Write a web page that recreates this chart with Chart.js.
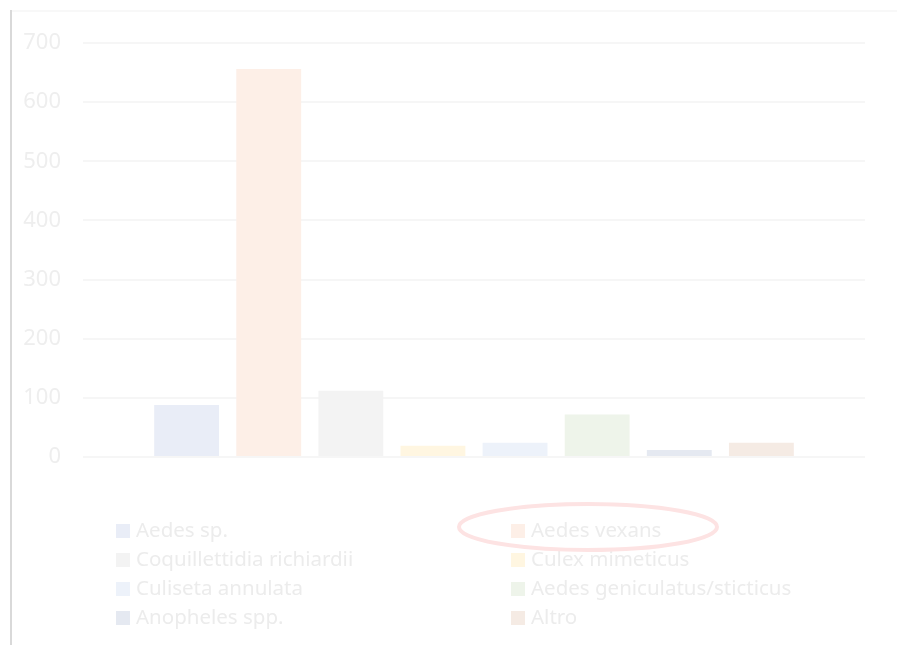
<!DOCTYPE html>
<html lang="it">
<head>
<meta charset="UTF-8">
<title>Specie catturate</title>
<script src="https://cdn.jsdelivr.net/npm/chart.js"></script>
<style>
    body {
        margin: 0;
        background: #fff;
        font-family: "Noto Sans", sans-serif;
    }
    .frame {
        position: relative;
        width: 897px;
        height: 645px;
        overflow: hidden;
    }
    .frame .edge-left {
        position: absolute;
        left: 10px; top: 10px;
        width: 2px; height: 635px;
        background: #d9d9d9;
    }
    .frame .edge-top {
        position: absolute;
        left: 12px; top: 10px;
        width: 885px; height: 2px;
        background: #f8f8f8;
    }
    #chart {
        position: absolute;
        left: 0; top: 0;
    }
    .legend {
        position: absolute;
        left: 116px;
        top: 515px;
        display: grid;
        grid-template-columns: 395px 300px;
        font-size: 20.5px;
        line-height: 29px;
        color: #ececec;
    }
    .legend span {
        display: inline-block;
        width: 14px; height: 14px;
        margin-right: 6px;
        vertical-align: -1px;
    }
    .mark {
        position: absolute;
        left: 0; top: 0;
        pointer-events: none;
    }
</style>
</head>
<body>
<div class="frame">
    <div class="edge-left"></div>
    <div class="edge-top"></div>
    <canvas id="chart" width="897" height="645"></canvas>
    <div class="legend" id="legend"></div>
    <svg class="mark" width="897" height="645">
        <ellipse cx="588" cy="527" rx="129" ry="23" fill="none" stroke="#fde3e3" stroke-width="4"/>
    </svg>
</div>

<script>
    const species = ['Aedes sp.', 'Aedes vexans', 'Coquillettidia richiardii', 'Culex mimeticus',
                     'Culiseta annulata', 'Aedes geniculatus/sticticus', 'Anopheles spp.', 'Altro'];
    const counts = [88, 656, 112, 19, 24, 72, 12, 24];
    const colors = ['#e9edf7', '#fdefe7', '#f3f3f3', '#fff6e1', '#edf2fa', '#eef4ea', '#e5e9f1', '#f5ebe4'];
    const yTicks = [0, 100, 200, 300, 400, 500, 600, 700];

    // one dataset per species so every bar gets its own legend entry
    const datasets = species.map((name, i) => ({
        label: name,
        data: [counts[i]],
        backgroundColor: colors[i],
        borderWidth: 0,
        barPercentage: 0.79,
        categoryPercentage: 0.84
    }));

    new Chart(document.getElementById('chart'), {
        type: 'bar',
        data: { labels: [''], datasets: datasets },
        options: {
            responsive: false,
            animation: false,
            layout: { padding: { left: 23, right: 32, top: 43, bottom: 188 } },
            plugins: { legend: { display: false }, tooltip: { enabled: false } },
            scales: {
                x: { display: false },
                y: {
                    min: 0,
                    max: 700,
                    afterBuildTicks: s => { s.ticks = yTicks.map(v => ({ value: v })); },
                    afterFit: s => { s.width = 60; },
                    border: { display: false },
                    grid: { color: '#f6f6f6', lineWidth: 2, drawTicks: false },
                    ticks: {
                        padding: 22,
                        color: '#eeeeee',
                        font: { family: 'Noto Sans', size: 22 }
                    }
                }
            }
        }
    });

    // legend laid out two per row, same order as the bars
    const legend = document.getElementById('legend');
    species.forEach((name, i) => {
        const item = document.createElement('div');
        item.innerHTML = `<span style="background:${colors[i]}"></span>${name}`;
        legend.appendChild(item);
    });
</script>
</body>
</html>
